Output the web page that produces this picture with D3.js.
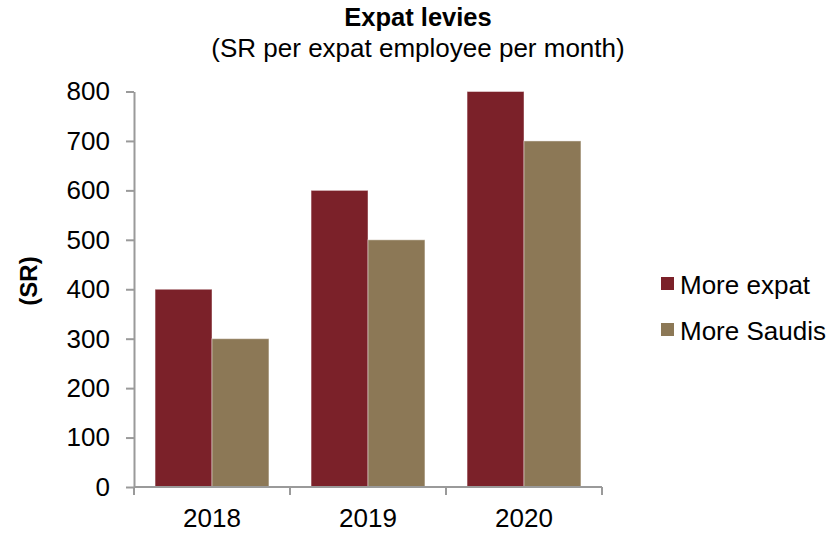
<!DOCTYPE html>
<html>
<head>
<meta charset="utf-8">
<script src="https://cdn.jsdelivr.net/npm/d3@7"></script>
<style>
  html, body { margin: 0; padding: 0; background: #ffffff; }
  svg { display: block; font-family: "Liberation Sans", Arial, sans-serif; }
</style>
</head>
<body>
<svg id="chart" width="837" height="533"></svg>
<script>
// Levy per expat employee per month (SR)
const years = ["2018", "2019", "2020"];
const seriesNames = ["More expat", "More Saudis"];
const moreExpat = [400, 600, 800];
const moreSaudis = [300, 500, 700];
const yTicks = [0, 100, 200, 300, 400, 500, 600, 700, 800];
const colors = ["#7b2129", "#8c7856"];

const rows = years.map((y, i) => ({ year: y, values: [moreExpat[i], moreSaudis[i]] }));

const svg = d3.select("#chart");
const plotLeft = 134, plotRight = 602, plotTop = 91.5, plotBottom = 487;
const axisColor = "#9a9a9a";

const x = d3.scaleBand().domain(years).range([plotLeft, plotRight])
  .paddingInner(0.27).paddingOuter(0.135);
const xs = d3.scaleBand().domain(seriesNames).range([0, x.bandwidth()]);
const y = d3.scaleLinear().domain([0, 800]).range([plotBottom, plotTop]);

// bars
const g = svg.append("g");
rows.forEach(r => {
  g.selectAll(null).data(r.values).enter().append("rect")
    .attr("x", (d, i) => x(r.year) + xs(seriesNames[i]))
    .attr("y", d => y(d))
    .attr("width", xs.bandwidth())
    .attr("height", d => y(0) - y(d))
    .attr("fill", (d, i) => colors[i])
    .attr("stroke", "rgba(255,255,255,0.45)")
    .attr("stroke-width", 1);
});

// y axis
const yAxis = svg.append("g").attr("transform", `translate(${plotLeft},0)`)
  .call(d3.axisLeft(y).tickValues(yTicks).tickSize(8).tickPadding(16).tickSizeOuter(0));
yAxis.select(".domain").attr("stroke", axisColor).attr("stroke-width", 2);
yAxis.selectAll(".tick line").attr("stroke", axisColor).attr("stroke-width", 2);
yAxis.selectAll(".tick text").attr("font-size", 26).attr("fill", "#000")
  .attr("font-family", "Liberation Sans, Arial, sans-serif");

// x axis: labels centered in each band, ticks at band boundaries
const xAxis = svg.append("g").attr("transform", `translate(0,${plotBottom})`)
  .call(d3.axisBottom(x).tickSize(0).tickPadding(22).tickSizeOuter(0));
xAxis.select(".domain").remove();
xAxis.selectAll(".tick text").attr("font-size", 26).attr("fill", "#000")
  .attr("font-family", "Liberation Sans, Arial, sans-serif");
svg.append("line")
  .attr("x1", plotLeft).attr("x2", plotRight).attr("y1", plotBottom).attr("y2", plotBottom)
  .attr("stroke", axisColor).attr("stroke-width", 2);
const bounds = d3.range(years.length + 1).map(i => plotLeft + i * x.step());
svg.selectAll(null).data(bounds).enter().append("line")
  .attr("x1", d => d).attr("x2", d => d)
  .attr("y1", plotBottom).attr("y2", plotBottom + 8)
  .attr("stroke", axisColor).attr("stroke-width", 2);

// titles
svg.append("text").attr("x", 418).attr("y", 26).attr("text-anchor", "middle")
  .attr("font-size", 25.5).attr("font-weight", "bold").text("Expat levies");
svg.append("text").attr("x", 418).attr("y", 57).attr("text-anchor", "middle")
  .attr("font-size", 26).text("(SR per expat employee per month)");

// y axis title
svg.append("text").attr("transform", "translate(37,281) rotate(-90)")
  .attr("text-anchor", "middle").attr("font-size", 24).attr("font-weight", "bold")
  .text("(SR)");

// legend
const legend = svg.append("g").attr("transform", "translate(661,277)");
seriesNames.forEach((name, i) => {
  const row = legend.append("g").attr("transform", `translate(0,${i * 46})`);
  row.append("rect").attr("width", 13).attr("height", 13).attr("fill", colors[i]);
  row.append("text").attr("x", 19).attr("y", 17).attr("font-size", 26).text(name);
});
</script>
</body>
</html>
